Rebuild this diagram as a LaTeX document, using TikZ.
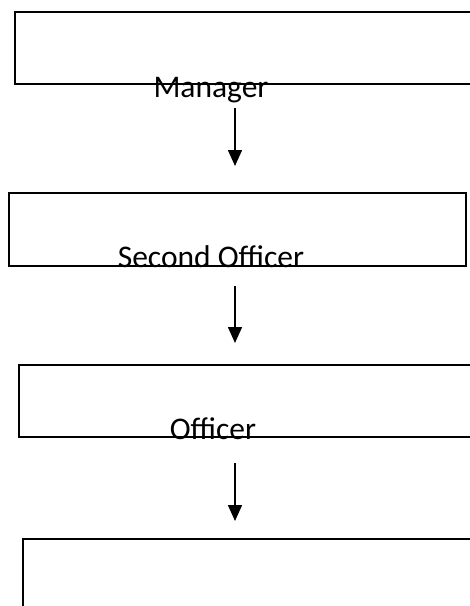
\documentclass[tikz,border=0pt]{standalone}
\usepackage{fontspec}
\setmainfont{Carlito}
\usetikzlibrary{arrows.meta}
\begin{document}
\begin{tikzpicture}[x=1pt,y=-1pt,
  box/.style={draw=black,line width=1.5pt,inner sep=0pt,outer sep=0pt,anchor=north west},
  lbl/.style={anchor=base,inner sep=0pt,font=\fontsize{31.5}{36}\selectfont},
  conn/.style={line width=1.5pt,-{Triangle[width=14pt,length=16pt]}}]
\useasboundingbox (0,0) rectangle (470,606);
\clip (0,0) rectangle (470,606);
\node[box,minimum width=475pt,minimum height=72pt] (b1) at (15,12) {};
\node[box,minimum width=457pt,minimum height=73pt] (b2) at (9,193) {};
\node[box,minimum width=471pt,minimum height=72pt] (b3) at (19,365) {};
\node[box,minimum width=467pt,minimum height=100pt] (b4) at (23,539) {};
\node[lbl] (t1) at (211,97) {Manager};
\node[lbl] (t2) at (211,267) {Second Officer};
\node[lbl] (t3) at (213,439) {Officer};
\coordinate (a1s) at (235,108);
\coordinate (a1e) at (235,166);
\coordinate (a2s) at (235,286);
\coordinate (a2e) at (235,343);
\coordinate (a3s) at (235,463);
\coordinate (a3e) at (235,521);
\draw[conn] (a1s) -- (a1e);
\draw[conn] (a2s) -- (a2e);
\draw[conn] (a3s) -- (a3e);
\end{tikzpicture}
\end{document}
